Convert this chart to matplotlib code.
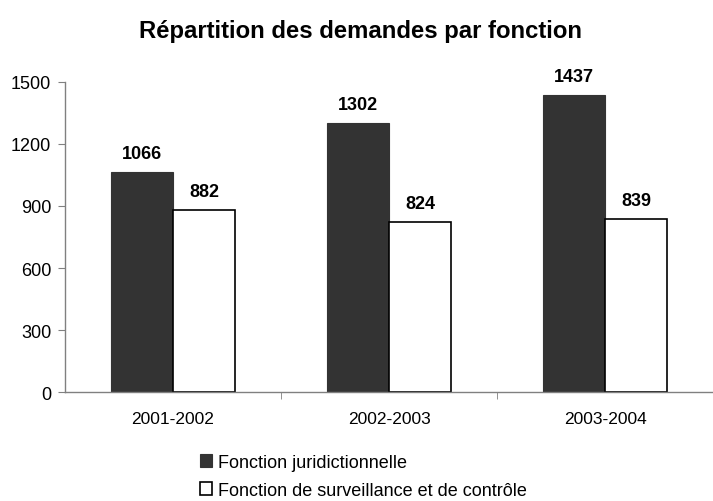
import matplotlib
matplotlib.use("Agg")
import matplotlib.pyplot as plt
import numpy as np

# ---- data ----
periods = ["2001-2002", "2002-2003", "2003-2004"]
juridictionnelle = [1066, 1302, 1437]
surveillance = [882, 824, 839]
series_labels = ["Fonction juridictionnelle",
                 "Fonction de surveillance et de contrôle"]

plt.rcParams["font.family"] = ["Liberation Sans", "DejaVu Sans"]

fig = plt.figure(figsize=(7.13, 5.02), dpi=100)
ax = fig.add_axes([0.0912, 0.2171, 0.9088, 0.6176])

x = np.arange(len(periods))
w = 0.286

b1 = ax.bar(x - w / 2, juridictionnelle, width=w, color="#333333",
            edgecolor="#333333", linewidth=0.8, label=series_labels[0])
b2 = ax.bar(x + w / 2, surveillance, width=w, color="white",
            edgecolor="black", linewidth=1.2, label=series_labels[1])

# value labels above bars
for bars in (b1, b2):
    for bar in bars:
        h = bar.get_height()
        ax.annotate(f"{int(h)}", xy=(bar.get_x() + bar.get_width() / 2, h),
                    xytext=(0, 7), textcoords="offset points",
                    ha="center", va="bottom", fontsize=13,
                    fontweight="bold")

ax.set_xlim(-0.5, 2.5)
ax.set_ylim(0, 1500)
ax.set_yticks([0, 300, 600, 900, 1200, 1500])
ax.set_xticks(x)
ax.set_xticklabels(periods)
ax.set_xticks([0.5, 1.5], minor=True)

for side in ("top", "right"):
    ax.spines[side].set_visible(False)
for side in ("left", "bottom"):
    ax.spines[side].set_color("#808080")
    ax.spines[side].set_linewidth(1.0)

ax.tick_params(axis="y", labelsize=13, length=5, color="#808080",
               direction="out", pad=5)
ax.tick_params(axis="x", which="major", length=0, labelsize=12.5, pad=14)
ax.tick_params(axis="x", which="minor", length=5, color="#808080",
               direction="out")

fig.suptitle("Répartition des demandes par fonction", x=0.505, y=0.96,
             fontsize=17.2, fontweight="bold")

fig.legend(handles=[b1, b2], labels=series_labels, loc="upper left",
           bbox_to_anchor=(0.27, 0.108), ncol=1, frameon=False,
           fontsize=13, handlelength=0.7, handleheight=0.7,
           handletextpad=0.3, labelspacing=0.6, borderaxespad=0)

fig.savefig("out.png", dpi=100, facecolor="white")
